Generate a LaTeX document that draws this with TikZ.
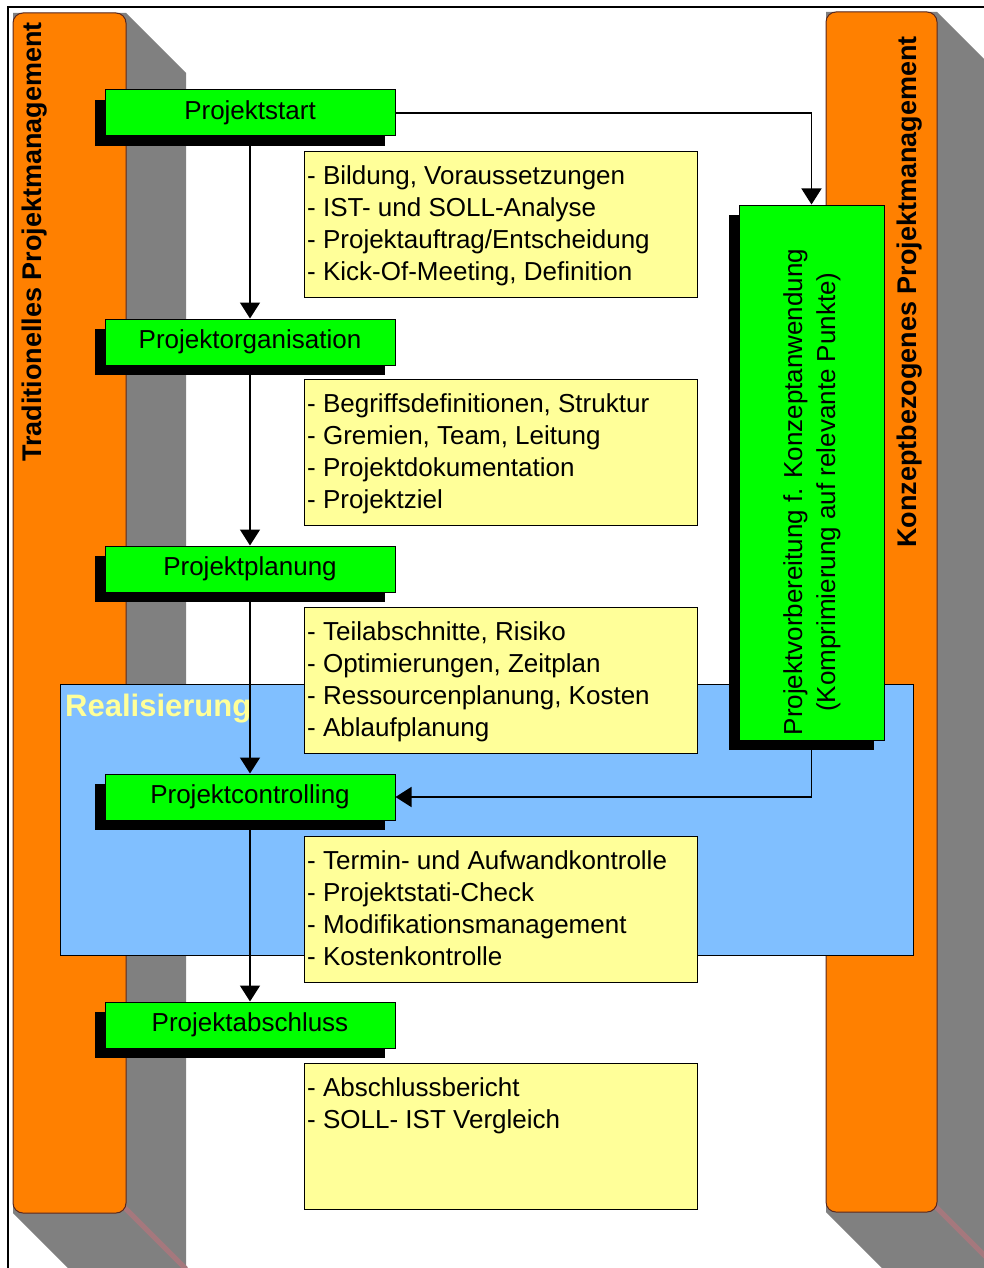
\documentclass[tikz,border=0pt]{standalone}
\usepackage{fontspec}
\setmainfont{Liberation Sans}
\usetikzlibrary{
  arrows.meta,
  positioning,
  shadows,
}
\definecolor{pillarorange}{RGB}{255,128,0}
\definecolor{pillarline}{RGB}{90,40,30}
\definecolor{shadowgray}{RGB}{128,128,128}
\definecolor{edgepink}{RGB}{165,120,125}
\definecolor{phasegreen}{RGB}{0,255,0}
\definecolor{noteyellow}{RGB}{255,255,153}
\definecolor{realblue}{RGB}{128,191,255}
\tikzset{
  pillar/.style = {
    draw=pillarline,
    line width=1pt,
    fill=pillarorange,
    rounded corners=10pt
  },
  pillar shadow/.style = {
    fill=shadowgray
  },
  pillar edge/.style = {
    edgepink,
    line width=5pt
  },
  pillar title/.style = {
    rotate=90,
    inner sep=0pt,
    font=\fontsize{27}{30}\selectfont\bfseries
  },
  phase/.style = {
    draw,
    line width=1pt,
    fill=phasegreen,
    minimum width=290pt,
    minimum height=46pt,
    inner sep=0pt,
    font=\fontsize{26}{30}\selectfont,
    drop shadow={shadow xshift=-10pt, shadow yshift=-10pt, fill=black, opacity=1}
  },
  note box/.style = {
    draw,
    line width=1pt,
    fill=noteyellow,
    anchor=north west,
    minimum width=393pt,
    minimum height=146pt,
    inner sep=0pt
  },
  note text/.style = {
    anchor=north west,
    align=left,
    inner sep=0pt,
    font=\fontsize{26}{32}\selectfont
  },
  arrow/.style = {
    -{Triangle[length=16pt,width=20pt]},
    line width=1.5pt
  },
}

\begin{document}
\begin{tikzpicture}[x=1pt, y=-1pt]
  \useasboundingbox (0,0) rectangle (984,1268);
  %% frame
  \draw[line width=2pt] (8,1268) -- (8,7) -- (984,7);
  %% pillars
  \fill[pillar shadow] (13,13) -- (126,13) -- (186,73) -- (186,1268) -- (68,1268) -- (13,1213) -- cycle;
  \draw[pillar edge] (124,1207) -- (186,1269);
  \draw[pillar] (13,13) rectangle (126,1213);
  \node[pillar title] (tl) at (35,242) {Traditionelles Projektmanagement};
  \fill[pillar shadow] (826,12) -- (937,12) -- (997,72) -- (997,1268) -- (882,1268) -- (826,1212) -- cycle;
  \draw[pillar edge] (935,1206) -- (997,1268);
  \draw[pillar] (826,12) rectangle (937,1212);
  \node[pillar title] (tr) at (910,292) {Konzeptbezogenes Projektmanagement};
  %% realisation area
  \node[draw, line width=1pt, fill=realblue, anchor=north west, minimum width=853pt,
        minimum height=271pt, inner sep=0pt] (re) at (60,684) {};
  \node[anchor=north west, inner sep=0pt, text=noteyellow,
        font=\fontsize{31}{34}\selectfont\bfseries] (rl) at (65,694) {Realisierung};
  %% notes
  \node[note box] (n1) at (304,151) {};
  \node[note text] (t1) at ([shift={(3,14)}]n1.north west)
    {- Bildung, Voraussetzungen\\- IST- und SOLL-Analyse\\- Projektauftrag/Entscheidung\\- Kick-Of-Meeting, Definition};
  \node[note box] (n2) at (304,379) {};
  \node[note text] (t2) at ([shift={(3,14)}]n2.north west)
    {- Begriffsdefinitionen, Struktur\\- Gremien, Team, Leitung\\- Projektdokumentation\\- Projektziel};
  \node[note box] (n3) at (304,607) {};
  \node[note text] (t3) at ([shift={(3,14)}]n3.north west)
    {- Teilabschnitte, Risiko\\- Optimierungen, Zeitplan\\- Ressourcenplanung, Kosten\\- Ablaufplanung};
  \node[note box] (n4) at (304,836) {};
  \node[note text] (t4) at ([shift={(3,14)}]n4.north west)
    {- Termin- und Aufwandkontrolle\\- Projektstati-Check\\- Modifikationsmanagement\\- Kostenkontrolle};
  \node[note box] (n5) at (304,1063) {};
  \node[note text] (t5) at ([shift={(3,14)}]n5.north west)
    {- Abschlussbericht\\- SOLL- IST Vergleich};
  %% phases
  \node[phase] (ps) at (250,113) {Projektstart};
  \node[phase] (po) at (250,342) {Projektorganisation};
  \node[phase] (pp) at (250,569) {Projektplanung};
  \node[phase] (pc) at (250,797) {Projektcontrolling};
  \node[phase] (pa) at (250,1025) {Projektabschluss};
  \node[phase, minimum width=145pt, minimum height=535pt] (vb) at (811.5,472.5) {};
  \node[rotate=90, align=center, inner sep=0pt, font=\fontsize{26}{33}\selectfont] (vt) at (812,492)
    {Projektvorbereitung f. Konzeptanwendung\\(Komprimierung auf relevante Punkte)};
  %% connectors
  \draw[arrow] (ps.south) -- (po.north);
  \draw[arrow] (po.south) -- (pp.north);
  \draw[arrow] (pp.south) -- (pc.north);
  \draw[arrow] (pc.south) -- (pa.north);
  \draw[arrow] (ps.east) -| (vb.north);
  \draw[arrow] (vb.south) |- (pc.east);
\end{tikzpicture}
\end{document}
